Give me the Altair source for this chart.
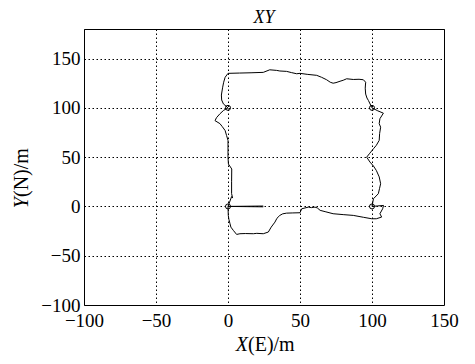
import altair as alt
import pandas as pd

# Trajectory, in path order
path_x = [24.5, 0.0, 2.5, 3.2, 2.5, 2.5, 2.6, 0.3, 0.0, 0.0, -1.0, -2.0, -4.0, -5.6, -9.0, -8.0, -5.6, -3.0, 0.0,
          -3.2, -4.4, -4.6, -3.7, -3.0, -2.0, 0.0, 8.0, 16.0, 24.5, 29.0, 33.8, 36.0, 40.7, 44.0, 47.7, 50.0,
          55.0, 61.6, 65.0, 68.5, 71.0, 73.0, 75.0, 77.8, 80.0, 82.4, 87.0, 91.0, 94.0, 95.6, 95.3, 95.6, 96.5,
          97.5, 100.0, 104.0, 107.9, 105.5, 105.0, 106.0, 105.3, 105.0, 103.0, 101.0, 98.5, 96.3, 98.6, 101.0,
          103.0, 105.0, 106.0, 105.2, 104.4, 101.0, 100.0, 104.0, 108.0, 107.4, 105.5, 106.7, 103.0, 99.8, 94.0,
          87.0, 80.0, 73.0, 68.0, 64.0, 62.0, 60.4, 58.0, 55.8, 51.2, 50.0, 45.0, 40.7, 38.0, 36.0, 34.0, 32.6,
          30.0, 28.0, 24.5, 20.0, 17.6, 12.0, 8.3, 6.0, 3.7, 2.0, 1.4, 0.6, 0.2, 0.0, 24.5]
path_y = [0.4, 0.0, 10.0, 8.5, 13.0, 25.0, 38.0, 43.0, 50.0, 67.0, 72.0, 77.0, 81.0, 84.0, 87.0, 90.0, 94.0, 97.5, 100.0,
          104.0, 108.0, 113.0, 121.0, 126.0, 131.0, 135.0, 135.3, 135.6, 136.0, 138.6, 138.0, 137.4, 137.0, 135.8, 134.6, 135.0,
          134.0, 133.0, 131.0, 128.5, 126.0, 125.0, 125.6, 127.0, 128.0, 129.5, 128.8, 129.0, 128.5, 126.0, 120.0, 114.0, 110.0,
          107.5, 100.0, 97.0, 94.6, 89.0, 84.0, 80.4, 74.0, 67.0, 62.0, 58.5, 54.0, 50.0, 45.0, 41.0,
          36.5, 30.0, 23.0, 18.0, 12.9, 7.8, 0.0, 0.5, 1.0, -2.4, -7.4, -10.8, -12.5, -12.5, -11.0,
          -9.1, -8.3, -7.4, -5.5, -4.0, -1.5, -0.7, -1.2, -0.7, -2.4, -6.4, -6.6, -6.8, -7.5, -9.1, -12.0, -15.9,
          -21.0, -26.0, -27.7, -27.3, -27.7, -27.5, -27.7, -28.4, -24.3, -21.0, -17.6, -13.0, -9.1, 0.0, -0.4]

# Waypoints
wp_x = [0, 0, 100, 100]
wp_y = [0, 100, 100, 0]

x_ticks = [-100, -50, 0, 50, 100, 150]
y_ticks = [-100, -50, 0, 50, 100, 150]

title_text = "XY"
x_title = ["X", "(E)/m"]
y_title = ["Y", "(N)/m"]

FONT = "Liberation Serif"
W, H = 360, 276

path_df = pd.DataFrame({"x": path_x, "y": path_y, "i": list(range(len(path_x)))})
wp_df = pd.DataFrame({"x": wp_x, "y": wp_y})

xs = alt.Scale(domain=[-100, 150], nice=False, zero=False)
ys = alt.Scale(domain=[-100, 180], nice=False, zero=False)

x_axis = alt.Axis(values=x_ticks, title=None, grid=True, labelFlush=False, labelPadding=6)
y_axis = alt.Axis(values=y_ticks, title=None, grid=True, labelFlush=False, labelPadding=4)

line = alt.Chart(path_df).mark_line(color="black", strokeWidth=1, interpolate="linear").encode(
    x=alt.X("x:Q", scale=xs, axis=x_axis),
    y=alt.Y("y:Q", scale=ys, axis=y_axis),
    order="i:Q",
)

pts = alt.Chart(wp_df).mark_point(shape="circle", filled=False, color="black", size=25, strokeWidth=1, opacity=1).encode(
    x=alt.X("x:Q", scale=xs),
    y=alt.Y("y:Q", scale=ys),
)

def txt(s, x, y, **kw):
    return alt.Chart(pd.DataFrame({"t": [s]})).mark_text(font=FONT, color="black", **kw).encode(
        text="t:N", x=alt.value(x), y=alt.value(y)
    )

t_title = txt(title_text, 180, -6.5, fontSize=18, fontStyle="italic", align="center", baseline="alphabetic")
t_x1 = txt(x_title[0], 164, 322, fontSize=20, fontStyle="italic", align="right", baseline="alphabetic")
t_x2 = txt(x_title[1], 164, 322, fontSize=20, align="left", baseline="alphabetic")
t_y1 = txt(y_title[0], -56, 168, fontSize=20, fontStyle="italic", align="right", baseline="alphabetic", angle=270)
t_y2 = txt(y_title[1], -56, 168, fontSize=20, align="left", baseline="alphabetic", angle=270)

chart = alt.layer(line, pts, t_title, t_x1, t_x2, t_y1, t_y2).properties(
    width=W, height=H,
    background="white",
    autosize=alt.AutoSizeParams(type="none"),
    padding={"left": 76, "top": 21, "right": 23, "bottom": 51},
).configure_view(stroke="black", strokeWidth=1).configure_axis(
    domain=False, ticks=False,
    gridColor="black", gridOpacity=1, gridWidth=1, gridDash=[1.5, 2.5],
    labelFont=FONT, labelFontSize=19, labelColor="black",
)

chart.save("out.html", embed_options={"renderer": "svg", "actions": False})
